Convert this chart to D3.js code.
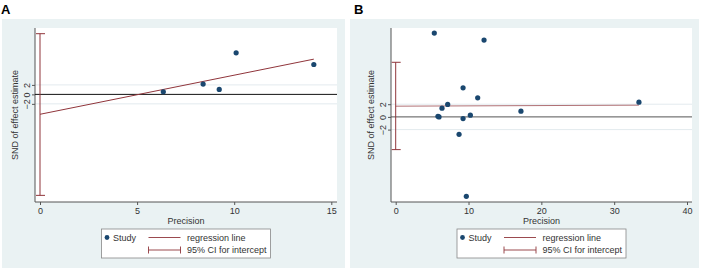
<!DOCTYPE html>
<html>
<head>
<meta charset="utf-8">
<script src="https://cdn.jsdelivr.net/npm/d3@7"></script>
<style>
  body { margin: 0; background: #fff; }
  svg { font-family: "Liberation Sans", Arial, sans-serif; }
</style>
</head>
<body>
<div id="chart"></div>
<script>
// Panel A data
const precisionA = [6.35, 8.4, 9.23, 10.1, 14.1];
const sndA = [0.55, 2.17, 1.05, 8.76, 6.3];
const regA = [-4.2, 7.43];        // regression line at x=0 and x=max
const ciA = [-21.3, 12.8];        // 95% CI for intercept
const xTicksA = [0, 5, 10, 15];

// Panel B data
const precisionB = [5.3, 12.13, 9.25, 11.26, 7.14, 6.36, 5.8, 5.95, 9.25, 10.25, 8.7, 9.7, 17.2, 33.4];
const sndB = [13.2, 12.1, 4.58, 3.0, 1.96, 1.37, 0.1, 0.0, -0.26, 0.27, -2.74, -12.5, 0.9, 2.32];
const regB = [1.69, 1.85];
const ciB = [-5.15, 8.6];
const xTicksB = [0, 10, 20, 30, 40];

const yTicks = [-2, 0, 2];

const navy = "#1a476f", maroon = "#90353b";

const svg = d3.select("#chart").append("svg")
    .attr("width", 702)
    .attr("height", 271);

function drawPanel(p) {
    const g = svg.append("g");

    // outer graph region
    g.append("rect")
        .attr("x", p.bg[0]).attr("y", 19)
        .attr("width", p.bg[1] - p.bg[0]).attr("height", 249)
        .attr("fill", "#eaf2f3");

    g.append("text")
        .attr("x", p.bg[0] === 2 ? 1 : 354).attr("y", 14)
        .attr("font-size", 13).attr("font-weight", "bold")
        .text(p.label);

    // plot region
    g.append("rect")
        .attr("x", p.plot[0]).attr("y", 28)
        .attr("width", p.plot[1] - p.plot[0]).attr("height", 174)
        .attr("fill", "#fff");

    const x = d3.scaleLinear().domain(p.xDomain).range(p.xRange);
    const y = d3.scaleLinear().domain(p.yDomain).range([202, 28]);

    // grid lines
    g.selectAll(".grid")
        .data(yTicks.filter(d => d !== 0))
        .join("line")
        .attr("x1", p.plot[0]).attr("x2", p.plot[1])
        .attr("y1", d => y(d)).attr("y2", d => y(d))
        .attr("stroke", "#e3eaee").attr("stroke-width", 1);

    // x axis
    const xAxis = d3.axisBottom(x).tickValues(p.xTicks).tickSize(3).tickPadding(3);
    const xg = g.append("g")
        .attr("transform", "translate(0,202)")
        .call(xAxis);
    xg.select(".domain").attr("d", `M${p.plot[0]},0H${p.plot[1]}`).attr("stroke", "#555");
    xg.selectAll(".tick line").attr("stroke", "#555");
    xg.selectAll(".tick text").attr("font-size", 9).attr("fill", "#333")
        .attr("font-family", "Liberation Sans, Arial, sans-serif");

    // y axis
    const yAxis = d3.axisLeft(y).tickValues(yTicks).tickSize(3).tickPadding(2);
    const yg = g.append("g")
        .attr("transform", `translate(${p.plot[0]},0)`)
        .call(yAxis);
    yg.select(".domain").attr("d", "M0,28V202").attr("stroke", "#555");
    yg.selectAll(".tick line").attr("stroke", "#555");
    yg.selectAll(".tick text")
        .attr("font-size", 9).attr("fill", "#333")
        .attr("font-family", "Liberation Sans, Arial, sans-serif")
        .attr("x", null).attr("dy", null)
        .attr("text-anchor", "middle")
        .attr("transform", "translate(-8,0) rotate(-90)")
        .attr("y", 3);

    // axis titles
    g.append("text")
        .attr("x", (p.plot[0] + p.plot[1]) / 2).attr("y", 223.5)
        .attr("text-anchor", "middle").attr("font-size", 9).attr("fill", "#333")
        .text("Precision");
    g.append("text")
        .attr("transform", `translate(${p.plot[0] - 17},115) rotate(-90)`)
        .attr("text-anchor", "middle").attr("font-size", 9).attr("fill", "#333")
        .text("SND of effect estimate");

    // reference line at 0
    g.append("line")
        .attr("x1", p.plot[0]).attr("x2", p.plot[1])
        .attr("y1", y(0)).attr("y2", y(0))
        .attr("stroke", p.zeroColor).attr("stroke-width", 1);

    // CI for intercept
    const cx = x(0);
    g.append("line")
        .attr("x1", cx).attr("x2", cx)
        .attr("y1", y(p.ci[0])).attr("y2", y(p.ci[1]))
        .attr("stroke", maroon).attr("stroke-width", 1);
    g.selectAll(".cap")
        .data(p.ci)
        .join("line")
        .attr("x1", cx - 4).attr("x2", cx + 5)
        .attr("y1", d => y(d)).attr("y2", d => y(d))
        .attr("stroke", maroon).attr("stroke-width", 1);

    // regression line
    g.append("line")
        .attr("x1", x(0)).attr("x2", x(d3.max(p.px)))
        .attr("y1", y(p.reg[0])).attr("y2", y(p.reg[1]))
        .attr("stroke", maroon).attr("stroke-width", p.regWidth)
        .attr("opacity", p.regOpacity);

    // studies
    g.selectAll(".pt")
        .data(p.px.map((d, i) => [d, p.py[i]]))
        .join("circle")
        .attr("cx", d => x(d[0])).attr("cy", d => y(d[1]))
        .attr("r", 2.6).attr("fill", navy);

    // legend
    const lx = (p.plot[0] + p.plot[1]) / 2 - 84.5;
    const lg = g.append("g").attr("transform", `translate(${lx},229)`);
    lg.append("rect").attr("width", 169).attr("height", 29)
        .attr("fill", "#fff").attr("stroke", "#888").attr("stroke-width", 0.8);
    lg.append("circle").attr("cx", 5.5).attr("cy", 8.5).attr("r", 2.4).attr("fill", navy);
    lg.append("text").attr("x", 11.5).attr("y", 11.5).attr("font-size", 9).attr("fill", "#333").text("Study");
    lg.append("line").attr("x1", 47).attr("x2", 79).attr("y1", 8.5).attr("y2", 8.5)
        .attr("stroke", maroon).attr("stroke-width", 0.9);
    lg.append("text").attr("x", 85.5).attr("y", 11.5).attr("font-size", 9).attr("fill", "#333").text("regression line");
    lg.append("line").attr("x1", 47).attr("x2", 79).attr("y1", 21).attr("y2", 21)
        .attr("stroke", maroon).attr("stroke-width", 0.9);
    [47, 79].forEach(v => {
        lg.append("line").attr("x1", v).attr("x2", v).attr("y1", 17.5).attr("y2", 24.5)
            .attr("stroke", maroon).attr("stroke-width", 0.9);
    });
    lg.append("text").attr("x", 85.5).attr("y", 24).attr("font-size", 9).attr("fill", "#333").text("95% CI for intercept");
}

drawPanel({
    label: "A", bg: [2, 345], plot: [35, 337],
    xDomain: [0, 15], xRange: [40, 331.3], yDomain: [-22.7, 14],
    xTicks: xTicksA, px: precisionA, py: sndA, reg: regA, ci: ciA,
    zeroColor: "#111", regWidth: 1, regOpacity: 1
});

drawPanel({
    label: "B", bg: [350, 699], plot: [391, 692],
    xDomain: [0, 40], xRange: [395.7, 687], yDomain: [-13.4, 14],
    xTicks: xTicksB, px: precisionB, py: sndB, reg: regB, ci: ciB,
    zeroColor: "#555", regWidth: 1, regOpacity: 0.7
});
</script>
</body>
</html>
